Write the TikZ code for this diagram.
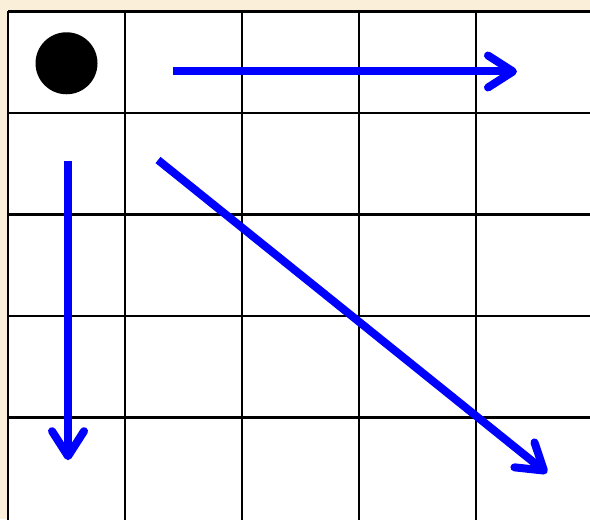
\documentclass[tikz,border=0pt]{standalone}
\usepackage{xcolor}
\usetikzlibrary{arrows.meta, positioning, calc}
\definecolor{paper}{RGB}{250,239,216}
\begin{document}
\begin{tikzpicture}[x=58.5pt, y=-50.75pt,
    cellline/.style={draw=black, line width=1.3pt},
    move/.style={draw=blue, line width=4pt,
        -{Straight Barb[length=12.5pt, width=16pt, round]}},
    stone/.style={circle, fill=black, minimum size=31pt, inner sep=0pt}]
    % background and frame
    \fill[paper] (-0.0684,-0.1133) rectangle (4.974,5);
    \useasboundingbox (-0.0684,-0.1133) rectangle (4.974,5);
    \fill[white] (0,0) rectangle (5.2,5.2);
    \foreach \i in {0,...,4} {
        \draw[cellline] (\i,0) -- (\i,5.2);
        \draw[cellline] (0,\i) -- (5.2,\i);
    }
    % piece and its moves
    \node[stone] (piece) at (0.5,0.51) {};
    \coordinate (rowstart) at (1.41,0.591);
    \coordinate (rowend) at (4.35,0.591);
    \coordinate (colstart) at (0.513,1.473);
    \coordinate (colend) at (0.513,4.42);
    \coordinate (diagstart) at (1.282,1.463);
    \coordinate (diagend) at (4.607,4.547);
    \draw[move] (rowstart) -- (rowend);
    \draw[move] (colstart) -- (colend);
    \draw[move] (diagstart) -- (diagend);
\end{tikzpicture}
\end{document}
